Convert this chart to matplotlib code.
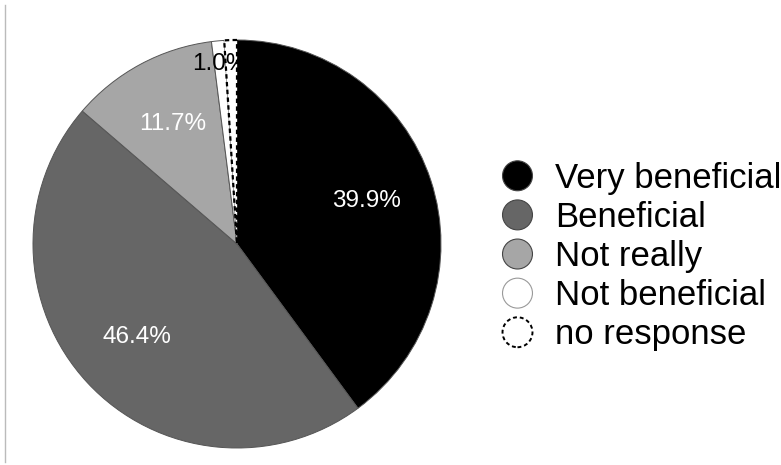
import matplotlib.pyplot as plt
from matplotlib.patches import Circle
from matplotlib.legend_handler import HandlerPatch
from matplotlib.lines import Line2D

plt.rcParams['font.family'] = ['Liberation Sans', 'DejaVu Sans']

labels = ['Very beneficial', 'Beneficial', 'Not really', 'Not beneficial', 'no response']
shares = [39.9, 46.4, 11.7, 1.0, 1.0]
colors = ['#000000', '#666666', '#a6a6a6', '#ffffff', '#ffffff']

W, H = 781, 465
fig = plt.figure(figsize=(W / 100, H / 100), dpi=100)

# pie centre (237, 244) px, radius 204 px
cx, cy, r = 237, 244, 204
ax = fig.add_axes([(cx - r) / W, (H - cy - r) / H, 2 * r / W, 2 * r / H])

def fmt(p):
    return f'{p:.1f}%' if p > 0.99 else ''

wedges, texts, autotexts = ax.pie(
    shares, colors=colors, startangle=90, counterclock=False,
    autopct=fmt, pctdistance=0.67,
    wedgeprops=dict(edgecolor='#555555', linewidth=0.7),
    textprops=dict(fontsize=17.5, color='white'))

# last slice has no label and a dashed outline
wedges[-1].set_edgecolor('black')
wedges[-1].set_linestyle((0, (2, 1.5)))
wedges[-1].set_linewidth(1.6)
autotexts[-1].set_text('')

# small slice label sits further out, in black
autotexts[3].set_color('black')
x, y = autotexts[3].get_position()
autotexts[3].set_position((x * 0.885 / 0.67, y * 0.885 / 0.67))

ax.set_xlim(-1, 1)
ax.set_ylim(-1, 1)
ax.set_aspect('equal')
ax.axis('off')

# legend with circular swatches
handles = []
for c in colors:
    handles.append(Circle((0, 0), 1, facecolor=c,
                          edgecolor='#999999' if c == '#ffffff' else '#444444',
                          linewidth=0.8))
handles[-1].set_edgecolor('black')
handles[-1].set_linestyle((0, (2, 1.5)))
handles[-1].set_linewidth(1.4)

def make_circle(legend, orig_handle, xdescent, ydescent, width, height, fontsize):
    rad = min(width, height) / 2
    return Circle((width / 2 - xdescent, height / 2 - ydescent), rad)

fig.legend(handles, labels, loc='center left',
           bbox_to_anchor=(501 / W, (H - 256) / H),
           frameon=False, fontsize=25, borderpad=0, borderaxespad=0,
           handlelength=0.95, handleheight=0.95, handletextpad=0.6,
           labelspacing=0.15,
           handler_map={Circle: HandlerPatch(patch_func=make_circle)})

# thin rule at the left edge
fig.add_artist(Line2D([5 / W, 5 / W], [3 / H, 1 - 5 / H],
                      color='#bbbbbb', linewidth=1.0))

fig.savefig('out.png', dpi=100)
